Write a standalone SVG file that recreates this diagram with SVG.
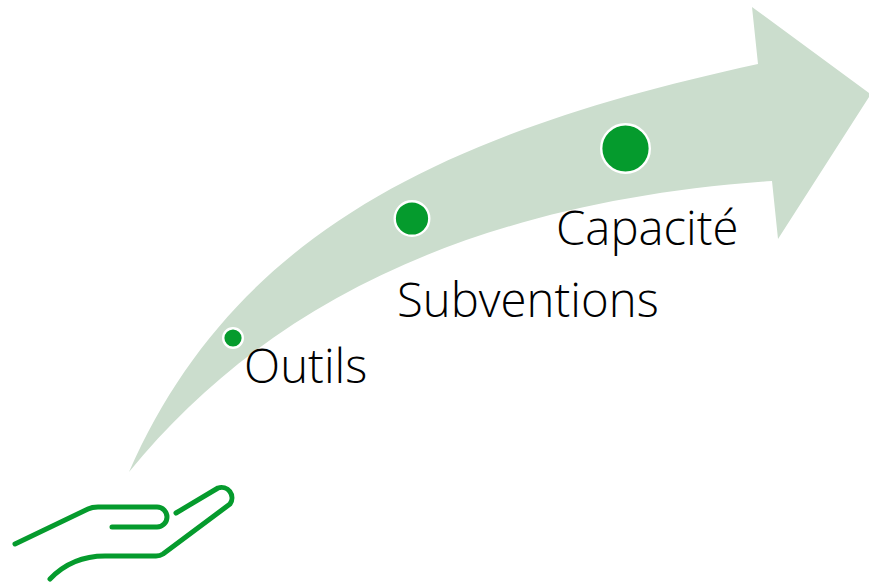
<svg xmlns="http://www.w3.org/2000/svg" width="869" height="584" viewBox="0 0 869 584">
<style>
.lbl{font-family:"Open Sans","Liberation Sans",sans-serif;font-size:47.300px;font-weight:300;fill:#000}
.dot{fill:#059b2d;stroke:#fff;stroke-width:2.4}
.hand{fill:none;stroke:#059b2d;stroke-width:5;stroke-linecap:round;stroke-linejoin:round}
</style>
<g id="connectors">
<path id="arrow" fill="#cbddcd" d="M129 472C233 235 440 133 758 64L752 7L869 93V97L778 239L772 181C470 202 265 305 129 472Z"/>
</g>
<g id="node-outils"><circle class="dot" cx="233" cy="338" r="9.800"/><text class="lbl" x="244" y="383">Outils</text></g>
<g id="node-subventions"><circle class="dot" cx="412" cy="218.500" r="17.300"/><text class="lbl" x="397" y="317">Subventions</text></g>
<g id="node-capacite"><circle class="dot" cx="625.500" cy="148.500" r="24.300"/><text class="lbl" x="556" y="245">Capacité</text></g>
<g id="hand">
<path class="hand" d="M15 544L88 509Q92 507 98 507H157A10 10 0 0 1 157 527H112"/>
<path class="hand" d="M176 513L218 488A10.500 10.500 0 0 1 230 504L163 554Q160 556 156 556H105Q72 556 50 579"/>
</g>
</svg>
